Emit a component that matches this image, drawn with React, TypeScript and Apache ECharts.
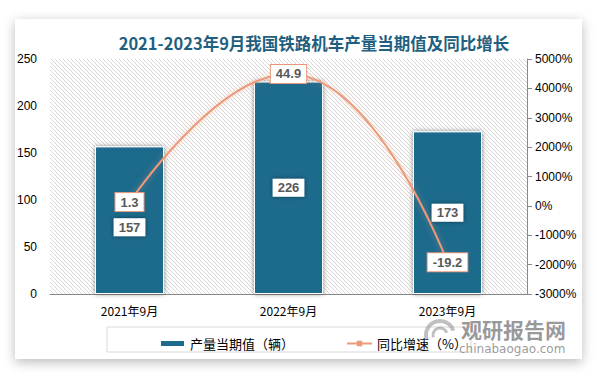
import React, { useEffect, useRef } from "react";
import * as echarts from "echarts";

const categories = ["2021年9月", "2022年9月", "2023年9月"];
const outputValues = [157, 226, 173];
const growthValues = [1.3, 44.9, -19.2];
const barName = "产量当期值（辆）";
const lineName = "同比增速（%）";
const titleText = "2021-2023年9月我国铁路机车产量当期值及同比增长";

function makeHatch(): HTMLCanvasElement {
  const c = document.createElement("canvas");
  c.width = 4;
  c.height = 4;
  const ctx = c.getContext("2d")!;
  ctx.fillStyle = "#ffffff";
  ctx.fillRect(0, 0, 4, 4);
  ctx.fillStyle = "#d6d6d6";
  for (let i = 0; i < 4; i++) ctx.fillRect(i, i, 1, 1);
  return c;
}

export default function App() {
  const ref = useRef<HTMLDivElement>(null);
  useEffect(() => {
    if (!ref.current) return;
    const chart = echarts.init(ref.current, null, { renderer: "svg" });
    const font = "'Liberation Sans', Arial, sans-serif";
    chart.setOption({
      animation: false,
      backgroundColor: "#ffffff",
      title: {
        text: titleText,
        left: 309,
        textAlign: "center",
        top: 30,
        textStyle: { fontSize: 16.5, fontWeight: "bold", color: "#1f5f80", fontFamily: "'Noto Sans CJK SC', sans-serif" },
      },
      graphic: [
        {
          type: "rect",
          z: -10,
          shape: { x: 15, y: 19, width: 567, height: 340 },
          style: { fill: "#ffffff", shadowColor: "rgba(0,0,0,0.28)", shadowBlur: 12, shadowOffsetX: 0, shadowOffsetY: 3 },
        },
        {
          type: "rect",
          z: 1,
          shape: { x: 107, y: 327, width: 364, height: 25 },
          style: { fill: "none", stroke: "#d9d9d9", lineWidth: 1 },
        },
        {
          type: "arc",
          z: 5,
          shape: { cx: 440, cy: 335, r: 14, startAngle: Math.PI * 0.9, endAngle: Math.PI * 1.9 },
          style: { stroke: "rgba(150,150,150,0.6)", lineWidth: 4, fill: "none" },
        },
        {
          type: "arc",
          z: 5,
          shape: { cx: 440, cy: 335, r: 7, startAngle: Math.PI * 0.9, endAngle: Math.PI * 1.9 },
          style: { stroke: "rgba(150,150,150,0.6)", lineWidth: 3, fill: "none" },
        },
        {
          type: "text",
          z: 5,
          x: 461,
          y: 318,
          style: { text: "观研报告网", fontSize: 21, fontWeight: "bold", fill: "rgba(120,120,120,0.75)", fontFamily: "'Noto Sans CJK SC', sans-serif" },
        },
        {
          type: "text",
          z: 5,
          x: 459,
          y: 343,
          style: { text: "chinabaogao.com", fontSize: 12, fill: "rgba(120,120,120,0.75)", fontFamily: "'DejaVu Sans', sans-serif" },
        },
      ],
      legend: {
        left: 154,
        top: 332,
        itemWidth: 25,
        itemHeight: 7,
        itemGap: 52,
        textStyle: { fontSize: 13, color: "#000", fontFamily: "'Noto Sans CJK SC', sans-serif" },
        data: [{ name: barName, icon: "rect" }, { name: lineName }],
      },
      grid: {
        left: 50,
        right: 74,
        top: 59,
        bottom: 81,
        show: true,
        borderWidth: 0,
        backgroundColor: { image: makeHatch(), repeat: "repeat" },
      },
      xAxis: {
        type: "category",
        data: categories,
        axisLine: { lineStyle: { color: "#898989" } },
        axisTick: { show: false },
        axisLabel: { color: "#000", fontSize: 12, margin: 10, fontFamily: "'Noto Sans CJK SC', sans-serif" },
      },
      yAxis: [
        {
          type: "value",
          min: 0,
          max: 250,
          interval: 50,
          axisLine: { show: false },
          axisTick: { show: false },
          splitLine: { show: false },
          axisLabel: { color: "#000", fontSize: 12, margin: 13, fontFamily: font },
        },
        {
          type: "value",
          min: -30,
          max: 50,
          interval: 10,
          position: "right",
          axisLine: { show: true, lineStyle: { color: "#898989" } },
          axisTick: { show: true, length: 5, lineStyle: { color: "#898989" } },
          splitLine: { show: false },
          axisLabel: {
            color: "#000",
            fontSize: 12,
            margin: 8,
            fontFamily: font,
            formatter: (v: number) => Math.round(v * 100) + "%",
          },
        },
      ],
      series: [
        {
          name: barName,
          type: "bar",
          barWidth: 69,
          data: outputValues.map((v, i) => ({
            value: v,
            label: i === 0 ? { offset: [0, 7] } : undefined,
          })),
          itemStyle: {
            color: "#1d6a8c",
            borderColor: "#ffffff",
            borderWidth: 1,
            shadowColor: "rgba(0,0,0,0.45)",
            shadowBlur: 5,
          },
          label: {
            show: true,
            position: "inside",
            backgroundColor: "#ffffff",
            padding: [3, 5, 2, 5],
            color: "#595959",
            fontWeight: "bold",
            fontSize: 13,
            fontFamily: font,
            shadowColor: "rgba(0,0,0,0.45)",
            shadowBlur: 4,
          },
        },
        {
          name: lineName,
          type: "line",
          yAxisIndex: 1,
          smooth: true,
          data: growthValues,
          symbol: "rect",
          symbolSize: 6,
          itemStyle: { color: "#ee9a78" },
          lineStyle: { color: "#ee9a78", width: 2, shadowColor: "rgba(238,154,120,0.5)", shadowBlur: 6 },
          z: 3,
          label: {
            show: true,
            position: "inside",
            backgroundColor: "#ffffff",
            borderColor: "#e8967a",
            borderWidth: 1,
            padding: [3, 5, 2, 5],
            color: "#595959",
            fontWeight: "bold",
            fontSize: 13,
            fontFamily: font,
          },
        },
      ],
    });
    return () => chart.dispose();
  }, []);
  return <div ref={ref} style={{ width: 601, height: 375, position: "fixed", left: 0, top: 0 }} />;
}
